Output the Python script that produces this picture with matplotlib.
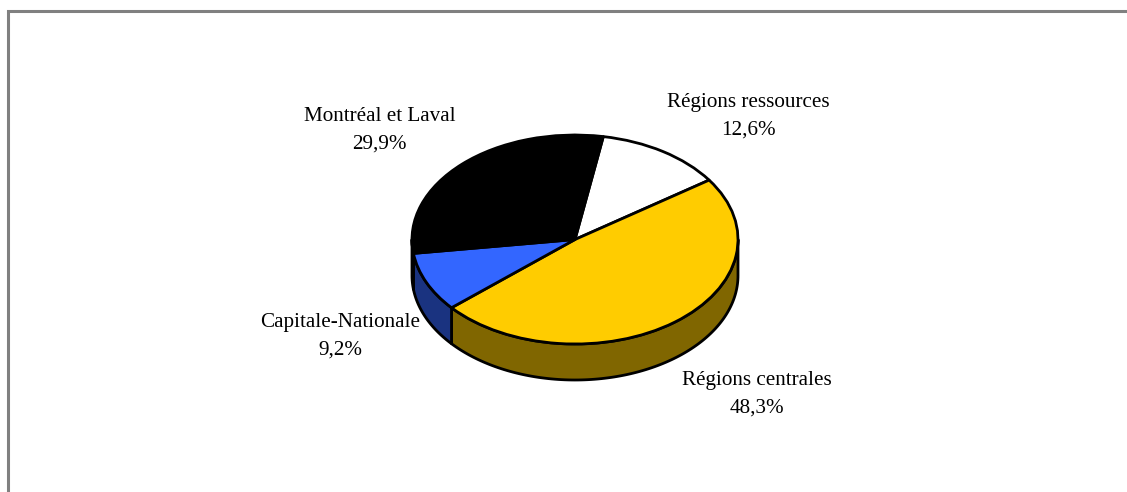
import numpy as np
import matplotlib
matplotlib.use("Agg")
import matplotlib.pyplot as plt

labels = ["Régions ressources", "Régions centrales", "Capitale-Nationale", "Montréal et Laval"]
values = [12.6, 48.3, 9.2, 29.9]
value_labels = ["12,6%", "48,3%", "9,2%", "29,9%"]
colors = ["#FFFFFF", "#FFCC00", "#3366FF", "#000000"]
side_colors = ["#808080", "#806600", "#1A3380", "#000000"]
label_x = [748.5, 757, 340, 379.5]
label_y = [116, 394, 336, 130]

W, H = 1127, 492
cx, cy, rx, ry, depth = 575, 239.5, 163, 104.5, 36
start = 80

plt.rcParams["font.family"] = ["Liberation Serif", "DejaVu Serif"]
fig = plt.figure(figsize=(W / 100, H / 100), dpi=100)

# background axes in pixels, for the frame and the labels
bg = fig.add_axes([0, 0, 1, 1])
bg.set_xlim(0, W)
bg.set_ylim(H, 0)
bg.axis("off")
bg.plot([8, 8, W], [H, 11, 11], color="#808080", lw=2.2, solid_joinstyle="miter")

# pie axes: one data unit = rx across, ry down, so circles turn into the ellipse
extra = 1.6
ax = fig.add_axes([(cx - rx * extra) / W, 1 - (cy + ry * extra) / H,
                   2 * rx * extra / W, 2 * ry * extra / H])
ax.patch.set_alpha(0)
d = depth / ry

# side wall first
edges = start - np.cumsum([0] + values) * 3.6
for i in range(len(values)):
    a0, a1 = edges[i], edges[i + 1]
    # only the front half of the rim is seen
    lo = max(a1, -180)
    hi = min(a0, 0)
    if hi <= lo:
        continue
    t = np.radians(np.linspace(hi, lo, 120))
    xs = np.cos(t)
    ys = np.sin(t)
    ax.fill(np.r_[xs, xs[::-1]], np.r_[ys, ys[::-1] - d],
            facecolor=side_colors[i], edgecolor="black", lw=2.0, joinstyle="round")

ax.pie(values, colors=colors, startangle=start, counterclock=False, radius=1,
       wedgeprops={"edgecolor": "black", "linewidth": 2.0, "joinstyle": "round"})
ax.set_aspect("auto")
ax.set_xlim(-extra, extra)
ax.set_ylim(-extra, extra)
ax.axis("off")

for name, val, x, y in zip(labels, value_labels, label_x, label_y):
    bg.text(x, y, name + "\n" + val, ha="center", va="center", fontsize=15.2,
            color="black", linespacing=1.6, zorder=5)

fig.savefig("out.png", dpi=100)
